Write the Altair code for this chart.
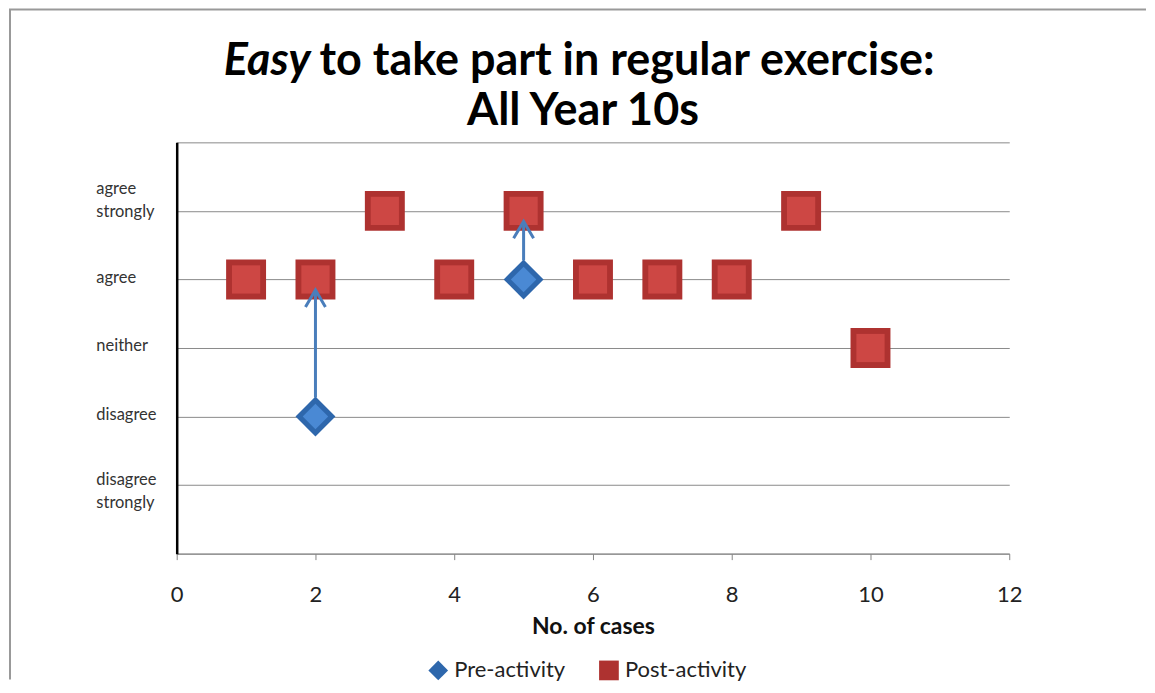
import altair as alt
import pandas as pd

# ---- text ----
title_italic = "Easy"
title_rest = "to take part in regular exercise:"
title_line2 = "All Year 10s"
x_title = "No. of cases"
series_names = ["Pre-activity", "Post-activity"]
level_labels = ["", "disagree strongly", "disagree", "neither", "agree", "agree strongly", ""]  # levels 0..6
x_ticks = [0, 2, 4, 6, 8, 10, 12]

# ---- data ----
post_cases = [1, 2, 3, 4, 5, 6, 7, 8, 9, 10]
post_values = [4, 4, 5, 4, 5, 4, 4, 4, 5, 3]
pre_cases = [2, 5]
pre_values = [2, 4]

pre_df = pd.DataFrame({"case": pre_cases, "level": pre_values, "series": series_names[0]})
post_df = pd.DataFrame({"case": post_cases, "level": post_values, "series": series_names[1]})
pts = pd.concat([pre_df, post_df], ignore_index=True)

arrows = pre_df.merge(post_df, on="case", suffixes=("", "_post"))
arrows = arrows[arrows["level"] != arrows["level_post"]].rename(columns={"level_post": "level2"})
heads = arrows[["case", "level2"]].rename(columns={"level2": "level"})

# ---- styling ----
W, H = 834, 412
FONT = "Lato"
BLUE_LINE = "#4A7EBB"


def js_label(s):
    parts = s.split(" ")
    if len(parts) > 1:
        return "[" + ",".join("'" + p + "'" for p in parts) + "]"
    return "'" + s + "'"


label_expr = "[" + ",".join(js_label(s) for s in level_labels) + "][round(datum.value)]"

x_axis = alt.Axis(values=x_ticks, title=x_title, grid=False, domainColor="#868686",
                  tickColor="#868686", tickSize=6, labelFontSize=22, labelFont=FONT,
                  labelColor="#222222", labelPadding=25, labelFlush=False,
                  titleFont=FONT, titleFontSize=23, titleFontWeight="bold",
                  titleColor="#111111", titlePadding=10)
y_axis = alt.Axis(values=list(range(7)), labelExpr=label_expr, title=None, grid=True,
                  gridColor="#8a8a8a", gridWidth=1, ticks=False, tickSize=0,
                  domainColor="#000000", domainWidth=2.5, labelAlign="left",
                  labelBaseline="middle", labelPadding=81, labelFont=FONT, labelFontSize=16.5,
                  labelColor="#333333", labelLineHeight=23, labelBound=False,
                  labelOffset={"condition": [{"test": "datum.value == 5", "value": -22},
                                             {"test": "datum.value == 1", "value": -6}],
                               "value": -2})

x_scale = alt.Scale(domain=[0, 12], nice=False)
y_scale = alt.Scale(domain=[0, 6], nice=False)


def xe(field="case"):
    return alt.X(f"{field}:Q", scale=x_scale, axis=x_axis)


def ye(field="level"):
    return alt.Y(f"{field}:Q", scale=y_scale, axis=y_axis)


legend = alt.Legend(orient="none", legendX=251, legendY=518, direction="horizontal",
                    title=None, labelFontSize=22, labelFont=FONT, labelColor="#222222",
                    symbolSize=390, columnPadding=32, labelOffset=5, symbolStrokeWidth=0)

base = alt.Chart(pts).mark_point(filled=True, size=1600, opacity=1).encode(
    x=xe(), y=ye(),
    color=alt.Color("series:N", scale=alt.Scale(domain=series_names, range=["#2E67AC", "#AE3230"]),
                    legend=legend, sort=series_names),
    shape=alt.Shape("series:N", scale=alt.Scale(domain=series_names, range=["diamond", "square"]),
                    legend=legend, sort=series_names),
)

pre_inner = alt.Chart(pre_df).mark_point(filled=True, shape="diamond", size=650,
                                          color="#4A89D4", opacity=1).encode(x=xe(), y=ye())
post_inner = alt.Chart(post_df).mark_point(filled=True, shape="square", size=800,
                                            color="#CD4744", opacity=1).encode(x=xe(), y=ye())

arrow_lines = alt.Chart(arrows).mark_rule(color=BLUE_LINE, strokeWidth=3, yOffset=-19,
                                          y2Offset=10).encode(
    x=xe(), y=ye(), y2="level2:Q")
arrow_heads = alt.Chart(heads).mark_point(shape="M-1,0.85L0,-0.85L1,0.85", filled=False,
                                          size=400, strokeWidth=3, color=BLUE_LINE,
                                          opacity=1, yOffset=19).encode(x=xe(), y=ye())

one = alt.Data(values=[{"k": 1}])
t1a = alt.Chart(one).mark_text(text=title_italic, font=FONT, fontSize=45, fontWeight="bold",
                               fontStyle="italic", align="right", baseline="alphabetic",
                               color="#000000").encode(x=alt.value(134), y=alt.value(-67))
t1b = alt.Chart(one).mark_text(text=title_rest, font=FONT, fontSize=45, fontWeight="bold",
                               align="left", baseline="alphabetic",
                               color="#000000").encode(x=alt.value(143), y=alt.value(-67))
t2 = alt.Chart(one).mark_text(text=title_line2, font=FONT, fontSize=45, fontWeight="bold",
                              align="center", baseline="alphabetic",
                              color="#000000").encode(x=alt.value(407), y=alt.value(-17))

border_left = alt.Chart(one).mark_rule(color="#999999", strokeWidth=2).encode(
    x=alt.value(-167), y=alt.value(-133), y2=alt.value(538))
border_top = alt.Chart(one).mark_rule(color="#999999", strokeWidth=2).encode(
    x=alt.value(-168), x2=alt.value(971), y=alt.value(-133))

chart = alt.layer(
    border_left, border_top, t1a, t1b, t2,
    base, pre_inner, post_inner, arrow_lines, arrow_heads,
).properties(width=W, height=H, padding=0).configure_view(stroke=None)

chart.save("out.html", embed_options={"renderer": "svg", "actions": False})
